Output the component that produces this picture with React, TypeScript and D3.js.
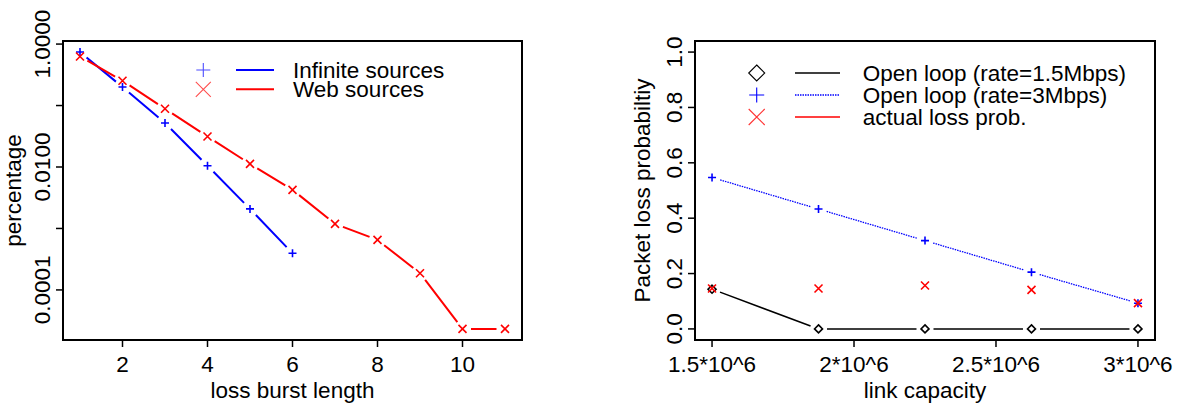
import * as d3 from 'd3';
import React from 'react';

// left panel: loss burst length distribution (log y)
const burstLen = [1, 2, 3, 4, 5, 6, 7, 8, 9, 10, 11];
const infiniteSrc = [0.741, 0.20, 0.052, 0.0105, 0.00208, 0.000395];
const webSrc = [0.628, 0.253, 0.0885, 0.0313, 0.01125, 0.00425, 0.00119, 0.000651, 0.000187, 0.0000232, 0.0000232];
const leftXTicks = [2, 4, 6, 8, 10];
const leftYTicks = [1, 0.1, 0.01, 0.001, 0.0001];
const leftYLabels = ['1.0000', '', '0.0100', '', '0.0001'];

// right panel: packet loss probability vs link capacity
const capacity = [1.5e6, 1.875e6, 2.25e6, 2.625e6, 3e6];
const openLoop15 = [0.1435, 0, 0, 0, 0];
const openLoop3 = [0.547, 0.433, 0.319, 0.205, 0.093];
const actualLoss = [0.146, 0.146, 0.157, 0.141, 0.093];
const rightXTicks = [1.5e6, 2e6, 2.5e6, 3e6];
const rightXLabels = ['1.5*10^6', '2*10^6', '2.5*10^6', '3*10^6'];
const rightYTicks = [0, 0.2, 0.4, 0.6, 0.8, 1.0];
const rightYLabels = ['0.0', '0.2', '0.4', '0.6', '0.8', '1.0'];

const FONT = '"Liberation Sans", Arial, Helvetica, sans-serif';
const FS = 22.5;

// R-style 4% padding
const pad = (lo, hi) => { const d = (hi - lo) * 0.04; return [lo - d, hi + d]; };

const symPath = (type, s) => {
  if (type === 'plus') return `M${-s},0H${s}M0,${-s}V${s}`;
  if (type === 'cross') return `M${-s},${-s}L${s},${s}M${-s},${s}L${s},${-s}`;
  return `M0,${-s}L${s},0L0,${s}L${-s},0Z`;
};

// type="b" line: segments with gaps around the points
const gappedPath = (pts, gap) => {
  let d = '';
  for (let i = 0; i < pts.length - 1; i++) {
    const [x0, y0] = pts[i], [x1, y1] = pts[i + 1];
    const L = Math.hypot(x1 - x0, y1 - y0);
    if (L <= 2 * gap) continue;
    const ux = (x1 - x0) / L, uy = (y1 - y0) / L;
    d += `M${x0 + ux * gap},${y0 + uy * gap}L${x1 - ux * gap},${y1 - uy * gap}`;
  }
  return d;
};

const LeftPanel = () => {
  const box = { l: 63, r: 522, t: 41, b: 340 };
  const x = d3.scaleLinear().domain(pad(1, 11)).range([box.l, box.r]);
  const allY = [...infiniteSrc, ...webSrc].map(Math.log10);
  const [lo, hi] = pad(d3.min(allY), d3.max(allY));
  const y = d3.scaleLog().domain([10 ** lo, 10 ** hi]).range([box.b, box.t]);
  const infPts = infiniteSrc.map((v, i) => [x(burstLen[i]), y(v)]);
  const webPts = webSrc.map((v, i) => [x(burstLen[i]), y(v)]);
  const cx = (box.l + box.r) / 2, cy = (box.t + box.b) / 2;
  return (
    <g>
      <path d={gappedPath(infPts, 8.5)} stroke="#0000ff" strokeWidth={2} fill="none" />
      <path d={gappedPath(webPts, 8.5)} stroke="#ff0000" strokeWidth={2} fill="none" />
      {infPts.map((p, i) => (
        <path key={'i' + i} d={symPath('plus', 4)} transform={`translate(${p[0]},${p[1]})`} stroke="#0000ff" strokeWidth={1.6} fill="none" />
      ))}
      {webPts.map((p, i) => (
        <path key={'w' + i} d={symPath('cross', 4)} transform={`translate(${p[0]},${p[1]})`} stroke="#ff0000" strokeWidth={1.6} fill="none" />
      ))}
      <rect x={box.l} y={box.t} width={box.r - box.l} height={box.b - box.t} fill="none" stroke="#000" strokeWidth={2} />
      {leftXTicks.map((t) => (
        <g key={'xt' + t}>
          <line x1={x(t)} x2={x(t)} y1={box.b} y2={box.b + 7} stroke="#000" strokeWidth={1.5} />
          <text x={x(t)} y={372} textAnchor="middle" fontSize={FS}>{t}</text>
        </g>
      ))}
      {leftYTicks.map((t, i) => (
        <g key={'yt' + t}>
          <line x1={box.l - 7} x2={box.l} y1={y(t)} y2={y(t)} stroke="#000" strokeWidth={1.5} />
          {leftYLabels[i] && (
            <text transform={`translate(50,${y(t)}) rotate(-90)`} textAnchor="middle" fontSize={FS}>{leftYLabels[i]}</text>
          )}
        </g>
      ))}
      <text x={cx} y={398} textAnchor="middle" fontSize={FS}>loss burst length</text>
      <text transform={`translate(21,${cy}) rotate(-90)`} textAnchor="middle" fontSize={FS}>percentage</text>
      {/* legend */}
      <path d={symPath('plus', 7)} transform="translate(203.3,70)" stroke="#4d4dff" strokeWidth={1.1} fill="none" />
      <path d={symPath('cross', 7.5)} transform="translate(203.3,89.3)" stroke="#ff4d4d" strokeWidth={1.1} fill="none" />
      <line x1={236} x2={274} y1={70} y2={70} stroke="#0000ff" strokeWidth={2} />
      <line x1={236} x2={274} y1={89.3} y2={89.3} stroke="#ff0000" strokeWidth={2} />
      <text x={293} y={78} fontSize={FS}>Infinite sources</text>
      <text x={293} y={97} fontSize={FS}>Web sources</text>
    </g>
  );
};

const RightPanel = () => {
  const box = { l: 695, r: 1155, t: 41, b: 340 };
  const x = d3.scaleLinear().domain(pad(d3.min(capacity), d3.max(capacity))).range([box.l, box.r]);
  const y = d3.scaleLinear().domain(pad(0, 1)).range([box.b, box.t]);
  const blackPts = openLoop15.map((v, i) => [x(capacity[i]), y(v)]);
  const bluePts = openLoop3.map((v, i) => [x(capacity[i]), y(v)]);
  const redPts = actualLoss.map((v, i) => [x(capacity[i]), y(v)]);
  const cx = (box.l + box.r) / 2, cy = (box.t + box.b) / 2;
  const legendRows = [
    { y: 73, sym: 'diamond', symCol: '#000', s: 8, line: '#000', dash: null, label: 'Open loop (rate=1.5Mbps)' },
    { y: 95, sym: 'plus', symCol: '#0000ff', s: 7.5, line: '#0000ff', dash: '1.5 1', label: 'Open loop (rate=3Mbps)' },
    { y: 117, sym: 'cross', symCol: '#ff3333', s: 8, line: '#ff0000', dash: null, label: 'actual loss prob.' },
  ];
  return (
    <g>
      <path d={gappedPath(blackPts, 8.5)} stroke="#000" strokeWidth={1.5} fill="none" />
      <path d={gappedPath(bluePts, 8.5)} stroke="#0000ff" strokeWidth={1.3} strokeDasharray="1.5 1" fill="none" />
      {blackPts.map((p, i) => (
        <path key={'b' + i} d={symPath('diamond', 4)} transform={`translate(${p[0]},${p[1]})`} stroke="#000" strokeWidth={1.6} fill="none" />
      ))}
      {bluePts.map((p, i) => (
        <path key={'u' + i} d={symPath('plus', 4)} transform={`translate(${p[0]},${p[1]})`} stroke="#0000ff" strokeWidth={1.6} fill="none" />
      ))}
      {redPts.map((p, i) => (
        <path key={'r' + i} d={symPath('cross', 4)} transform={`translate(${p[0]},${p[1]})`} stroke="#ff0000" strokeWidth={1.6} fill="none" />
      ))}
      <rect x={box.l} y={box.t} width={box.r - box.l} height={box.b - box.t} fill="none" stroke="#000" strokeWidth={2} />
      {rightXTicks.map((t, i) => (
        <g key={'xt' + t}>
          <line x1={x(t)} x2={x(t)} y1={box.b} y2={box.b + 7} stroke="#000" strokeWidth={1.5} />
          <text x={x(t)} y={372} textAnchor="middle" fontSize={FS}>{rightXLabels[i]}</text>
        </g>
      ))}
      {rightYTicks.map((t, i) => (
        <g key={'yt' + t}>
          <line x1={box.l - 7} x2={box.l} y1={y(t)} y2={y(t)} stroke="#000" strokeWidth={1.5} />
          <text transform={`translate(682,${y(t)}) rotate(-90)`} textAnchor="middle" fontSize={FS}>{rightYLabels[i]}</text>
        </g>
      ))}
      <text x={cx} y={398} textAnchor="middle" fontSize={FS}>link capacity</text>
      <text transform={`translate(650,${cy}) rotate(-90)`} textAnchor="middle" fontSize={FS}>Packet loss probabiltiy</text>
      {legendRows.map((r) => (
        <g key={r.label}>
          <path d={symPath(r.sym, r.s)} transform={`translate(756.7,${r.y})`} stroke={r.symCol} strokeWidth={1.1} fill="none" />
          <line x1={795} x2={840} y1={r.y} y2={r.y} stroke={r.line} strokeWidth={1.6} strokeDasharray={r.dash || undefined} />
          <text x={862.7} y={r.y + 8} fontSize={FS}>{r.label}</text>
        </g>
      ))}
    </g>
  );
};

export default function App() {
  return (
    <div style={{ position: 'absolute', left: 0, top: 0 }}>
      <svg width={1177} height={408} style={{ display: 'block', background: '#fff' }} fontFamily={FONT}>
        <LeftPanel />
        <RightPanel />
      </svg>
    </div>
  );
}
